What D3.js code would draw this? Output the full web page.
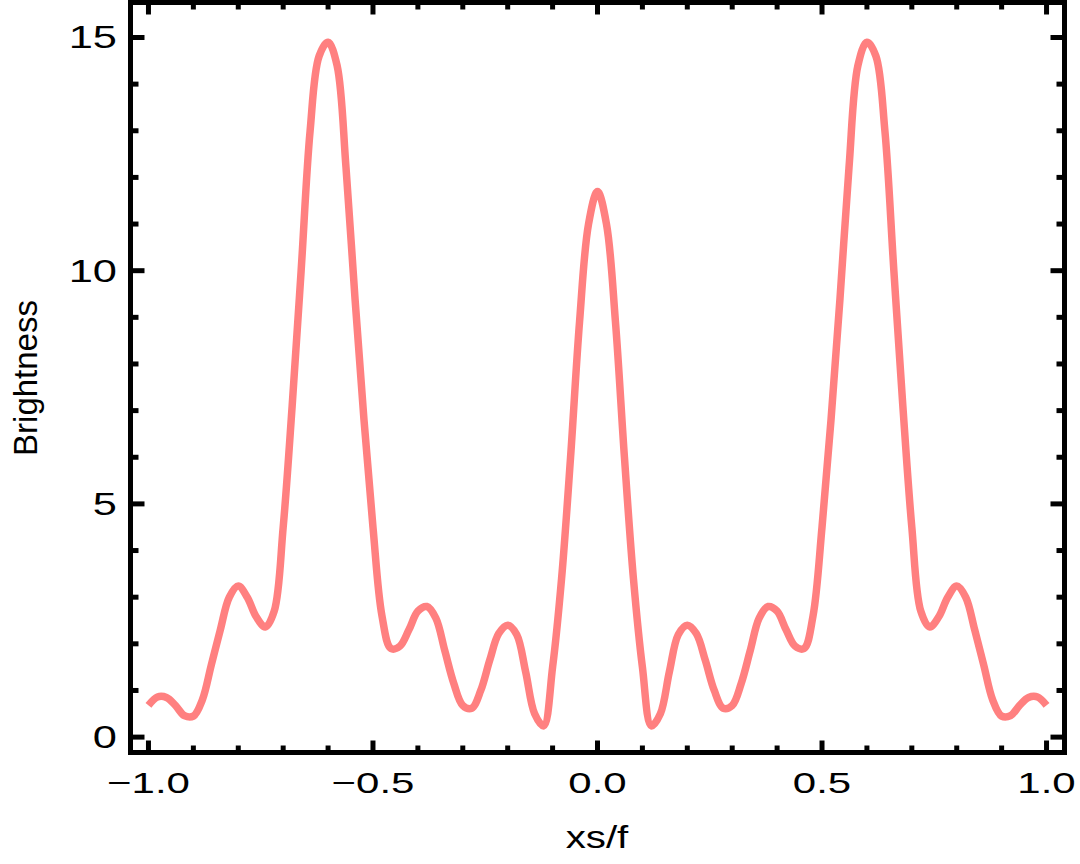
<!DOCTYPE html>
<html>
<head>
<meta charset="utf-8">
<script src="https://cdn.jsdelivr.net/npm/d3@7"></script>
<style>
  body { margin: 0; background: #fff; }
  text { font-family: "Liberation Sans", Arial, sans-serif; fill: #000; }
</style>
</head>
<body>
<svg id="chart" width="1080" height="864"></svg>
<script>
// ---- data ----
const xsf = [
  -1.00, -0.98, -0.96, -0.94, -0.92, -0.90, -0.88, -0.86, -0.84, -0.82,
  -0.80, -0.78, -0.76, -0.74, -0.72, -0.70, -0.68, -0.66, -0.64, -0.62,
  -0.60, -0.58, -0.56, -0.54, -0.52, -0.50, -0.48, -0.46, -0.44, -0.42,
  -0.40, -0.38, -0.36, -0.34, -0.32, -0.30, -0.28, -0.26, -0.24, -0.22,
  -0.20, -0.18, -0.16, -0.14, -0.12, -0.10, -0.08, -0.06, -0.04, -0.02,
   0.00,
   0.02,  0.04,  0.06,  0.08,  0.10,  0.12,  0.14,  0.16,  0.18,  0.20,
   0.22,  0.24,  0.26,  0.28,  0.30,  0.32,  0.34,  0.36,  0.38,  0.40,
   0.42,  0.44,  0.46,  0.48,  0.50,  0.52,  0.54,  0.56,  0.58,  0.60,
   0.62,  0.64,  0.66,  0.68,  0.70,  0.72,  0.74,  0.76,  0.78,  0.80,
   0.82,  0.84,  0.86,  0.88,  0.90,  0.92,  0.94,  0.96,  0.98,  1.00
];
const brightness = [
  0.68, 0.86, 0.85, 0.68, 0.46, 0.45, 0.80, 1.55, 2.30, 3.00,
  3.24, 3.00, 2.58, 2.36, 2.70, 4.50, 7.10, 10.0, 13.0, 14.6,
  14.9, 14.4, 12.2, 9.40, 6.80, 4.50, 2.60, 1.90, 1.95, 2.30,
  2.70, 2.80, 2.55, 1.85, 1.15, 0.68, 0.62, 1.00, 1.65, 2.22,
  2.40, 2.20, 1.40, 0.50, 0.24, 1.50, 3.40, 6.00, 8.90, 11.0,
  11.7,
  11.0, 8.90, 6.00, 3.40, 1.50, 0.24, 0.50, 1.40, 2.20, 2.40,
  2.22, 1.65, 1.00, 0.62, 0.68, 1.15, 1.85, 2.55, 2.80, 2.70,
  2.30, 1.95, 1.90, 2.60, 4.50, 6.80, 9.40, 12.2, 14.4, 14.9,
  14.6, 13.0, 10.0, 7.10, 4.50, 2.70, 2.36, 2.58, 3.00, 3.24,
  3.00, 2.30, 1.55, 0.80, 0.45, 0.46, 0.68, 0.85, 0.86, 0.68
];

const xMajor = [-1.0, -0.5, 0.0, 0.5, 1.0];
const xMinor = [-0.9, -0.8, -0.7, -0.6, -0.4, -0.3, -0.2, -0.1,
                0.1, 0.2, 0.3, 0.4, 0.6, 0.7, 0.8, 0.9];
const yMajor = [0, 5, 10, 15];
const yMinor = [1, 2, 3, 4, 6, 7, 8, 9, 11, 12, 13, 14];

// ---- layout ----
const svg = d3.select('#chart');
const L = 130.5, R = 1064.5, T = 2.5, B = 752.5;

const x = d3.scaleLinear().domain([-1.04, 1.04]).range([L, R]);
const y = d3.scaleLinear().domain([-0.33, 15.75]).range([B, T]);

const fmtX = d3.format('.1f');   // gives the real minus sign
const TICK_W = 5;

// the curve
const line = d3.line()
  .x((d, i) => x(xsf[i]))
  .y(d => y(d))
  .curve(d3.curveCatmullRom.alpha(0.5));

svg.append('path')
  .datum(brightness)
  .attr('d', line)
  .attr('fill', 'none')
  .attr('stroke', '#ff8080')
  .attr('stroke-width', 7.5)
  .attr('stroke-linejoin', 'miter');

// ticks (all four sides point inward)
const ticks = svg.append('g').attr('stroke', '#000').attr('stroke-width', TICK_W);

function xTicks(vals, len) {
  vals.forEach(v => {
    ticks.append('line').attr('x1', x(v)).attr('x2', x(v)).attr('y1', B).attr('y2', B - len);
    ticks.append('line').attr('x1', x(v)).attr('x2', x(v)).attr('y1', T).attr('y2', T + len);
  });
}
function yTicks(vals, len) {
  vals.forEach(v => {
    ticks.append('line').attr('y1', y(v)).attr('y2', y(v)).attr('x1', L).attr('x2', L + len);
    ticks.append('line').attr('y1', y(v)).attr('y2', y(v)).attr('x1', R).attr('x2', R - len);
  });
}
xTicks(xMajor, 12);
xTicks(xMinor, 7);
yTicks(yMajor, 14);
yTicks(yMinor, 8);

// frame
svg.append('rect')
  .attr('x', L).attr('y', T)
  .attr('width', R - L).attr('height', B - T)
  .attr('fill', 'none')
  .attr('stroke', '#000')
  .attr('stroke-width', 5);

// tick labels (the reference font is wide, so stretch it)
svg.append('g').selectAll('text')
  .data(xMajor)
  .join('text')
  .attr('transform', d => `translate(${x(d)},793) scale(1.4,1)`)
  .attr('text-anchor', 'middle')
  .attr('font-size', 30)
  .text(d => fmtX(d));

svg.append('g').selectAll('text')
  .data(yMajor)
  .join('text')
  .attr('transform', d => `translate(117,${y(d) + 11}) scale(1.4,1)`)
  .attr('text-anchor', 'end')
  .attr('font-size', 31)
  .text(d => d);

// axis titles
svg.append('text')
  .attr('transform', `translate(37,378) rotate(-90)`)
  .attr('text-anchor', 'middle')
  .attr('font-size', 33)
  .text('Brightness');

svg.append('text')
  .attr('x', 597).attr('y', 848)
  .attr('text-anchor', 'middle')
  .attr('font-size', 31)
  .attr('transform', 'translate(597,0) scale(1.3,1) translate(-597,0)')
  .text('xs/f');
</script>
</body>
</html>
